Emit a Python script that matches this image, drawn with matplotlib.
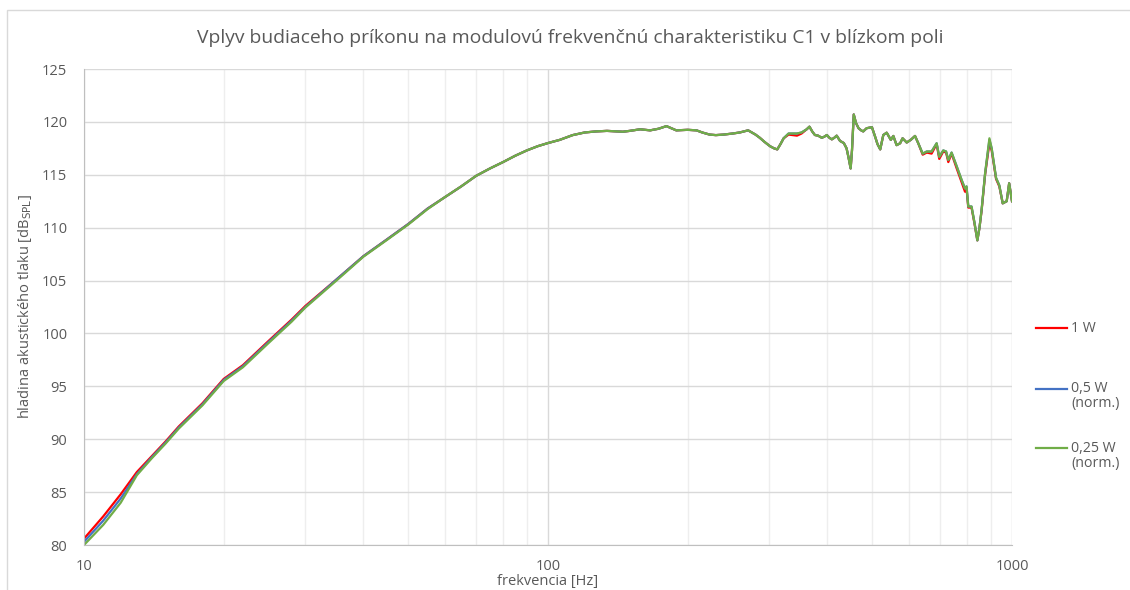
import matplotlib.pyplot as plt
from matplotlib.lines import Line2D
from matplotlib.patches import Rectangle
from matplotlib.ticker import FixedLocator, NullFormatter

freq = [10, 11, 12, 13, 14, 15, 16, 18, 20, 22, 25, 28, 30, 35, 40, 45, 50, 55, 60, 65,
        70, 75, 80, 85, 90, 95, 100, 106, 113, 120, 127, 134, 140, 145, 150, 158, 166, 173,
        180, 189, 200, 209, 215, 223, 230, 239, 250, 259, 270, 280, 286, 293, 301, 307, 312,
        317, 322, 330, 337, 344, 352, 361, 366, 371, 376, 382, 389, 394, 399, 404, 409, 414,
        419, 426, 434, 440, 444, 449, 452, 456, 461, 467, 473, 478, 486, 492, 499, 507, 513,
        520, 528, 537, 548, 555, 564, 574, 581, 593, 605, 618, 628, 642, 655, 671, 688, 697,
        711, 721, 729, 741, 760, 779, 792, 798, 805, 818, 830, 842, 851, 860, 875, 894, 904,
        924, 939, 955, 974, 986, 1000]

p_1w = [80.6, 82.7, 84.8, 86.9, 88.4, 89.8, 91.2, 93.4, 95.7, 97.0, 99.3, 101.3, 102.6, 105.1,
        107.3, 108.9, 110.35, 111.8, 112.9, 113.9, 114.9, 115.6, 116.2, 116.8, 117.3, 117.7,
        118.0, 118.3, 118.75, 119.0, 119.1, 119.15, 119.1, 119.07, 119.15, 119.3, 119.2, 119.35,
        119.6, 119.2, 119.25, 119.2, 119.0, 118.8, 118.75, 118.8, 118.9, 119.0, 119.2, 118.8,
        118.5, 118.1, 117.7, 117.5, 117.4, 117.9, 118.45, 118.8, 118.75, 118.7, 118.9, 119.3,
        119.55, 119.1, 118.76, 118.7, 118.5, 118.6, 118.76, 118.5, 118.35, 118.5, 118.7, 118.2,
        118.0, 117.5, 116.7, 115.6, 117.3, 120.7, 119.9, 119.4, 119.2, 119.1, 119.4, 119.45,
        119.5, 118.6, 117.9, 117.4, 118.76, 118.98, 118.3, 118.67, 117.8, 117.98, 118.45, 118.05,
        118.3, 118.67, 117.98, 116.9, 117.1, 117.0, 117.9, 116.5, 117.2, 117.1, 116.2, 117.0,
        115.6, 114.3, 113.4, 113.7, 111.9, 111.9, 110.4, 108.8, 110.0, 111.6, 115.0, 118.0,
        117.3, 114.6, 113.9, 112.3, 112.5, 114.2, 112.5]

p_05w = [80.3, 82.3, 84.4, 86.7, 88.3, 89.7, 91.1, 93.3, 95.6, 96.9, 99.2, 101.2, 102.5, 105.1,
         107.3, 108.9, 110.35, 111.8, 112.9, 113.9, 114.9, 115.6, 116.2, 116.8, 117.3, 117.7,
         118.0, 118.3, 118.75, 119.0, 119.1, 119.15, 119.1, 119.07, 119.15, 119.3, 119.2, 119.35,
         119.6, 119.2, 119.25, 119.2, 119.0, 118.8, 118.75, 118.8, 118.9, 119.0, 119.2, 118.8,
         118.5, 118.1, 117.7, 117.5, 117.4, 117.9, 118.45, 118.9, 118.9, 118.9, 119.0, 119.3,
         119.55, 119.1, 118.76, 118.7, 118.5, 118.6, 118.76, 118.5, 118.35, 118.5, 118.7, 118.2,
         118.0, 117.5, 116.7, 115.6, 117.3, 120.7, 119.9, 119.4, 119.2, 119.1, 119.4, 119.45,
         119.5, 118.6, 117.9, 117.4, 118.76, 118.98, 118.3, 118.67, 117.8, 117.98, 118.45, 118.05,
         118.3, 118.67, 117.98, 117.0, 117.2, 117.2, 117.98, 116.7, 117.3, 117.2, 116.4, 117.1,
         115.8, 114.5, 113.7, 113.9, 112.0, 112.0, 110.5, 108.8, 110.0, 111.7, 115.1, 118.3,
         117.5, 114.7, 114.0, 112.3, 112.5, 114.2, 112.5]

p_025w = [80.0, 81.9, 84.0, 86.6, 88.2, 89.6, 91.0, 93.2, 95.5, 96.8, 99.1, 101.1, 102.45, 105.0,
          107.25, 108.85, 110.3, 111.75, 112.9, 113.9, 114.9, 115.6, 116.2, 116.8, 117.3, 117.7,
          118.0, 118.3, 118.75, 119.0, 119.1, 119.15, 119.1, 119.07, 119.15, 119.3, 119.2, 119.35,
          119.6, 119.2, 119.25, 119.2, 119.0, 118.8, 118.75, 118.8, 118.9, 119.0, 119.2, 118.8,
          118.5, 118.1, 117.7, 117.5, 117.4, 117.9, 118.45, 118.9, 118.9, 118.9, 119.0, 119.3,
          119.55, 119.1, 118.76, 118.7, 118.5, 118.6, 118.76, 118.5, 118.35, 118.5, 118.7, 118.2,
          118.0, 117.5, 116.7, 115.6, 117.3, 120.7, 119.9, 119.4, 119.2, 119.1, 119.4, 119.45,
          119.5, 118.6, 117.9, 117.4, 118.76, 118.98, 118.3, 118.67, 117.8, 117.98, 118.45, 118.05,
          118.3, 118.67, 117.98, 117.0, 117.2, 117.2, 117.98, 116.7, 117.3, 117.2, 116.4, 117.1,
          115.8, 114.5, 113.7, 113.9, 112.0, 112.0, 110.5, 108.8, 110.0, 111.7, 115.15, 118.45,
          117.5, 114.7, 114.0, 112.3, 112.5, 114.2, 112.5]

labels = ["1 W", "0,5 W", "0,25 W"]
sublabels = ["", "(norm.)", "(norm.)"]
colors = ["#ff0000", "#4472c4", "#70ad47"]
y_ticks = [80, 85, 90, 95, 100, 105, 110, 115, 120, 125]
x_ticks = [10, 100, 1000]

txt = "#595959"
plt.rcParams['font.family'] = ['Open Sans', 'DejaVu Sans']

fig = plt.figure(figsize=(11.3, 5.9), dpi=100)
fig.patches.append(Rectangle((7 / 1130, -0.05), 1.2, 1 - 10 / 590 + 0.05, transform=fig.transFigure,
                             fill=False, edgecolor="#d9d9d9", linewidth=1.0))
ax = fig.add_axes([84 / 1130, 1 - 545 / 590, 928 / 1130, 476 / 590])

for ys, lab, c in zip([p_1w, p_05w, p_025w], labels, colors):
    ax.plot(freq, ys, color=c, linewidth=1.6, label=lab)

ax.set_xscale("log")
ax.set_xlim(10, 1000)
ax.set_ylim(80, 125)
ax.set_yticks(y_ticks)
ax.xaxis.set_major_locator(FixedLocator(x_ticks))
ax.xaxis.set_minor_locator(FixedLocator([20, 30, 40, 50, 60, 70, 80, 90,
                                         200, 300, 400, 500, 600, 700, 800, 900]))
ax.xaxis.set_minor_formatter(NullFormatter())
ax.set_xticklabels([str(v) for v in x_ticks])
ax.tick_params(axis="both", which="both", length=0, labelsize=10.5, labelcolor=txt)
ax.tick_params(axis="y", pad=12)
ax.tick_params(axis="x", pad=10)

ax.grid(True, which="major", color="#d9d9d9", linewidth=1.0)
ax.grid(True, which="minor", axis="x", color="#eeeeee", linewidth=1.0)
ax.set_axisbelow(True)
for side in ["top", "right"]:
    ax.spines[side].set_visible(False)
for side in ["left", "bottom"]:
    ax.spines[side].set_color("#bfbfbf")

ax.set_xlabel("frekvencia [Hz]", fontsize=10.5, color=txt, labelpad=0)
ax.set_ylabel(r"hladina akustického tlaku [dB$_{\mathrm{SPL}}$]", fontsize=10.5, color=txt, labelpad=6)
fig.text(570 / 1130, 1 - 38 / 590, "Vplyv budiaceho príkonu na modulovú frekvenčnú charakteristiku C1 v blízkom poli",
         ha="center", va="center", fontsize=13.9, color=txt)

# legend drawn by hand: the swatch sits on the first line of a two-line label
leg_y = [328, 389, 448]
for lab, sub, c, y in zip(labels, sublabels, colors, leg_y):
    fy = 1 - y / 590
    fig.add_artist(Line2D([1036 / 1130, 1067 / 1130], [fy, fy], color=c, linewidth=1.6))
    fig.text(1071 / 1130, fy, lab, ha="left", va="center", fontsize=10.2, color=txt)
    if sub:
        fig.text(1071 / 1130, fy - 15 / 590, sub, ha="left", va="center", fontsize=10.2, color=txt)

fig.savefig("out.png", dpi=100)
